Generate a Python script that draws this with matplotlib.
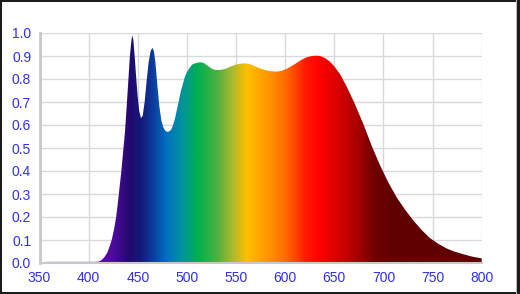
import numpy as np
import matplotlib
matplotlib.use("Agg")
import matplotlib.pyplot as plt
from matplotlib.colors import LinearSegmentedColormap
from matplotlib.patches import Rectangle, Polygon

# Spectrum data (wavelength nm, relative intensity)
wavelength = [357, 370, 385, 400, 405, 410, 413, 416, 419, 421, 423.5, 426, 428, 430, 431, 433.3, 435, 437,
              439, 440.5, 442, 443.5, 444.4, 445.5, 447, 448.5, 450, 451.5, 453.3, 455, 457, 459, 461, 463,
              464.8, 466.5, 468, 470, 472, 474, 476, 478, 480, 482, 484, 486, 488, 490, 492, 494, 496, 498,
              500, 503, 506, 510, 513.3, 517, 521, 525, 528, 531.6, 535, 540, 545, 550, 555, 559, 563, 567,
              571, 575, 580, 585, 591, 596, 601, 606, 611, 616, 621, 626, 630, 633.4, 637, 641, 645.6, 650,
              656, 662.6, 670, 679.5, 688, 696.5, 705, 713.5, 722, 730.4, 739, 747.4, 756, 764.4, 772, 781.3,
              790, 800]
intensity = [0.005, 0.005, 0.005, 0.005, 0.005, 0.006, 0.012, 0.025, 0.045, 0.068, 0.1, 0.15, 0.2, 0.27, 0.31,
             0.40, 0.48, 0.57, 0.70, 0.80, 0.90, 0.965, 0.99, 0.97, 0.89, 0.80, 0.72, 0.66, 0.63, 0.64, 0.70,
             0.79, 0.87, 0.92, 0.936, 0.92, 0.87, 0.77, 0.68, 0.62, 0.59, 0.575, 0.57, 0.572, 0.58, 0.60,
             0.63, 0.67, 0.71, 0.75, 0.78, 0.81, 0.83, 0.85, 0.865, 0.87, 0.873, 0.87, 0.858, 0.846, 0.84,
             0.839, 0.84, 0.845, 0.855, 0.863, 0.867, 0.868, 0.866, 0.86, 0.852, 0.845, 0.838, 0.834, 0.832,
             0.835, 0.843, 0.855, 0.868, 0.882, 0.893, 0.899, 0.901, 0.901, 0.898, 0.89, 0.875, 0.855,
             0.82, 0.767, 0.70, 0.605, 0.51, 0.425, 0.35, 0.285, 0.232, 0.185, 0.143, 0.108, 0.083, 0.063,
             0.05, 0.038, 0.028, 0.020]

x_ticks = [350, 400, 450, 500, 550, 600, 650, 700, 750, 800]
y_ticks = [0.0, 0.1, 0.2, 0.3, 0.4, 0.5, 0.6, 0.7, 0.8, 0.9, 1.0]

# wavelength -> colour anchors for the gradient fill
grad_wl = [350, 400, 425, 440, 452, 465, 478, 495, 510, 530, 545, 560, 580, 600, 620, 635, 650, 670, 690, 710, 800]
grad_col = ['#7a18b8', '#7010b0', '#4a0a9a', '#22096e', '#141a78', '#0b3ea0', '#0070c0', '#00959a',
            '#00b050', '#50b040', '#a8b830', '#ffc000', '#ff9a00', '#ff6a00', '#ff1a00', '#ff0000',
            '#e00000', '#b00000', '#700000', '#600000', '#600000']

fig = plt.figure(figsize=(5.2, 2.94), dpi=100)
fig.patch.set_facecolor('white')
ax = fig.add_axes([39.5 / 520, 31 / 294, 442.2 / 520, 230 / 294])

xmin, xmax = 350, 800
ax.set_xlim(xmin, xmax)
ax.set_ylim(0, 1.0)

cmap = LinearSegmentedColormap.from_list(
    'spec', [((w - xmin) / (xmax - xmin), c) for w, c in zip(grad_wl, grad_col)])
grad = np.linspace(0, 1, 900).reshape(1, -1)
im = ax.imshow(grad, cmap=cmap, aspect='auto', extent=[xmin, xmax, 0, 1.0], zorder=2,
               interpolation='bilinear')
verts = [(wavelength[0], 0)] + list(zip(wavelength, intensity)) + [(wavelength[-1], 0)]
poly = Polygon(verts, closed=True, transform=ax.transData, facecolor='none', edgecolor='none')
ax.add_patch(poly)
im.set_clip_path(poly)

ax.set_xticks(x_ticks)
ax.set_yticks(y_ticks)
ax.set_xticklabels([str(v) for v in x_ticks])
ax.set_yticklabels([f'{v:.1f}' for v in y_ticks])
ax.grid(True, color='#d9d9d9', linewidth=1.0, zorder=0)
ax.set_axisbelow(True)
ax.tick_params(length=0, pad=6, labelsize=10, labelcolor='#3030ec')
for lab in ax.get_xticklabels() + ax.get_yticklabels():
    lab.set_fontfamily('Liberation Sans')
for s in ['top', 'right']:
    ax.spines[s].set_visible(False)
ax.spines['left'].set_color('#c8c8c8')
ax.spines['left'].set_linewidth(2)
ax.spines['bottom'].set_color('#c8c8c8')
ax.spines['bottom'].set_linewidth(1.5)

# dark frame around the picture
W, H = 520, 294
dark = '#1c1c1c'
for (x0, y0, w, h) in [(0, 0, 2, H), (0, H - 2, W, 2), (0, 0, W, 2), (516, 0, 1, H)]:
    fig.patches.append(Rectangle((x0 / W, y0 / H), w / W, h / H, transform=fig.transFigure,
                                 facecolor='#bdbdbd' if x0 == 516 else dark, edgecolor='none'))
fig.patches.append(Rectangle((517 / W, 0), 3 / W, 1, transform=fig.transFigure,
                             facecolor=dark, edgecolor='none'))

fig.savefig('out.png', dpi=100, facecolor='white')
